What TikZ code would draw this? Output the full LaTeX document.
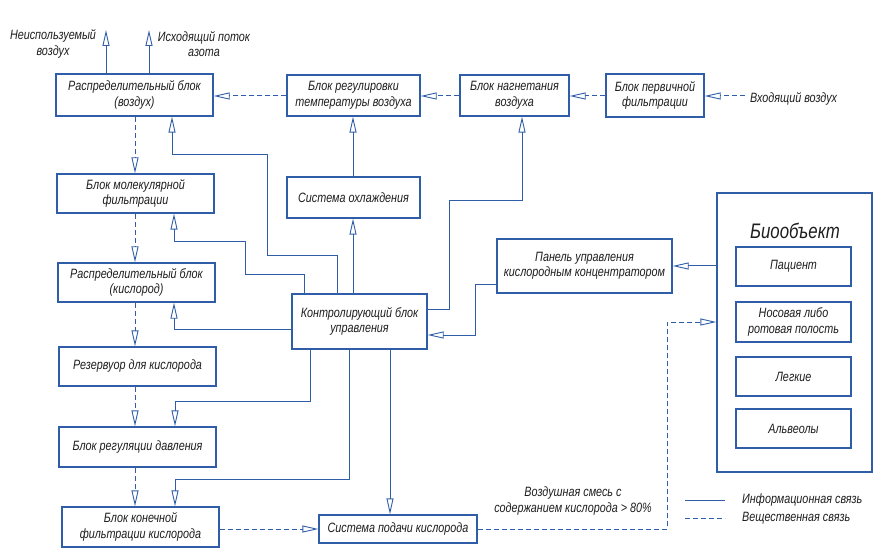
\documentclass[tikz,border=0pt]{standalone}
\usepackage{fontspec}
\setmainfont{Liberation Sans}[FakeStretch=0.8]
\usetikzlibrary{arrows.meta,calc}
\definecolor{ln}{HTML}{2F5DA8}
\definecolor{tx}{HTML}{1E1E1E}
\begin{document}
\begin{tikzpicture}[x=1pt,y=-1pt,
  box/.style={draw=ln, line width=1.3pt, fill=white, inner sep=1pt, align=center,
    font=\fontsize{13.5}{15.5}\selectfont\itshape, text=tx},
  info/.style={draw=ln, line width=1pt},
  mat/.style={draw=ln, line width=1pt, dash pattern=on 5pt off 3pt},
  tip/.style={-{Triangle[open,length=16pt,width=7pt,line width=0.9pt]}},
  lbl/.style={font=\fontsize{13.5}{15.5}\selectfont\itshape, text=tx, align=center, inner sep=0pt}]
\useasboundingbox (0,0) rectangle (883,553);
% boxes
\node[box, minimum width=157pt, minimum height=42pt] (rv) at (134.5,95) {Распределительный блок\\(воздух)};
\node[box, minimum width=157pt, minimum height=39pt] (mf) at (135.5,193.5) {Блок молекулярной\\фильтрации};
\node[box, minimum width=157pt, minimum height=39pt] (rk) at (136.5,282.5) {Распределительный блок\\(кислород)};
\node[box, minimum width=157pt, minimum height=39pt] (rez) at (137.5,366.5) {Резервуор для кислорода};
\node[box, minimum width=157pt, minimum height=40pt] (rd) at (137.5,447) {Блок регуляции давления};
\node[box, minimum width=157pt, minimum height=40pt] (kf) at (140.5,527) {Блок конечной\\фильтрации кислорода};
\node[box, minimum width=158pt, minimum height=28pt] (sp) at (398,529) {Система подачи кислорода};
\node[box, minimum width=133pt, minimum height=41pt] (rt) at (353.5,95.5) {Блок регулировки\\температуры воздуха};
\node[box, minimum width=109pt, minimum height=41pt] (ng) at (514.5,95.5) {Блок нагнетания\\воздуха};
\node[box, minimum width=98pt, minimum height=43pt] (pf) at (655,95.5) {Блок первичной\\фильтрации};
\node[box, minimum width=133pt, minimum height=41pt] (so) at (353.5,197.5) {Система охлаждения};
\node[box, minimum width=135pt, minimum height=55pt] (cb) at (359.5,321.5) {Контролирующий блок\\управления};
\node[box, minimum width=175pt, minimum height=54pt] (pu) at (584.5,266) {Панель управления\\кислородным концентратором};
\node[box, minimum width=155pt, minimum height=279pt] (bio) at (794.5,332.5) {};
\node[lbl, font=\fontsize{21}{23}\selectfont\itshape] (biot) at (795,231) {Биообъект};
\node[box, minimum width=115pt, minimum height=39pt] (pac) at (793.5,266.5) {Пациент};
\node[box, minimum width=115pt, minimum height=40pt] (nos) at (793.5,322) {Носовая либо\\ротовая полость};
\node[box, minimum width=115pt, minimum height=39pt] (leg) at (793.5,376.5) {Легкие};
\node[box, minimum width=115pt, minimum height=39pt] (alv) at (793.5,428.5) {Альвеолы};
% labels
\node[lbl] (lunused) at (53,44) {Неиспользуемый\\воздух};
\node[lbl] (lnitro) at (204,44) {Исходящий поток\\азота};
\node[lbl, anchor=west] (lin) at (750,99) {Входящий воздух};
\node[lbl] (lmix) at (573,501) {Воздушная смесь с\\содержанием кислорода > 80\%};
\node[lbl, anchor=west] (leg1) at (742,500) {Информационная связь};
\node[lbl, anchor=west] (leg2) at (742,518) {Вещественная связь};
% coordinates
\coordinate (out1) at (106,30);
\coordinate (out2) at (149,30);
\coordinate (inA) at (745,96);
\coordinate (xl) at (135,0);
\coordinate (m1) at (667,322);
\coordinate (p1) at (475,284);
\coordinate (p2) at (475,335);
\coordinate (n1) at (449,309);
\coordinate (n2) at (449,201);
\coordinate (n3) at (522,201);
\coordinate (a1) at (337,256);
\coordinate (a2) at (267,256);
\coordinate (a3) at (267,155);
\coordinate (a4) at (172,155);
\coordinate (b1) at (304,275);
\coordinate (b2) at (245,275);
\coordinate (b3) at (245,242);
\coordinate (b4) at (174,242);
\coordinate (c1) at (174,329);
\coordinate (d1) at (310,401);
\coordinate (d2) at (175,401);
\coordinate (e1) at (349,479);
\coordinate (e2) at (175,479);
\coordinate (f1) at (390,0);
\coordinate (g1) at (353,0);
\coordinate (lg1) at (685,500);
\coordinate (lg2) at (725,500);
\coordinate (lg3) at (685,518);
\coordinate (lg4) at (725,518);
% material (dashed) flows
\draw[mat,tip] (inA) -- (pf.east |- inA);
\draw[mat,tip] (pf.west |- inA) -- (ng.east |- inA);
\draw[mat,tip] (ng.west |- inA) -- (rt.east |- inA);
\draw[mat,tip] (rt.west |- inA) -- (rv.east |- inA);
\draw[mat,tip] (rv.south -| xl) -- (mf.north -| xl);
\draw[mat,tip] (mf.south -| xl) -- (rk.north -| xl);
\draw[mat,tip] (rk.south -| xl) -- (rez.north -| xl);
\draw[mat,tip] (rez.south -| xl) -- (rd.north -| xl);
\draw[mat,tip] (rd.south -| xl) -- (kf.north -| xl);
\draw[mat,tip] (kf.east |- sp) -- (sp.west);
\draw[mat,tip] (sp.east) -| (m1) -- (bio.west |- m1);
% information flows
\draw[info,tip] (rv.north -| out1) -- (out1);
\draw[info,tip] (rv.north -| out2) -- (out2);
\draw[info,tip] (bio.west |- pu.east) -- (pu.east);
\draw[info,tip] (pu.west |- p1) -- (p1) -- (p2) -- (cb.east |- p2);
\draw[info,tip] (cb.east |- n1) -- (n1) -- (n2) -- (n3) -- (ng.south -| n3);
\draw[info,tip] (cb.north -| g1) -- (so.south -| g1);
\draw[info,tip] (so.north -| g1) -- (rt.south -| g1);
\draw[info,tip] (cb.north -| a1) -- (a1) -- (a2) -- (a3) -- (a4) -- (rv.south -| a4);
\draw[info,tip] (cb.north -| b1) -- (b1) -- (b2) -- (b3) -- (b4) -- (mf.south -| b4);
\draw[info,tip] (cb.west |- c1) -- (c1) -- (rk.south -| c1);
\draw[info,tip] (cb.south -| d1) -- (d1) -- (d2) -- (rd.north -| d2);
\draw[info,tip] (cb.south -| e1) -- (e1) -- (e2) -- (kf.north -| e2);
\draw[info,tip] (cb.south -| f1) -- (sp.north -| f1);
% legend
\draw[info] (lg1) -- (lg2);
\draw[mat] (lg3) -- (lg4);
\end{tikzpicture}
\end{document}
